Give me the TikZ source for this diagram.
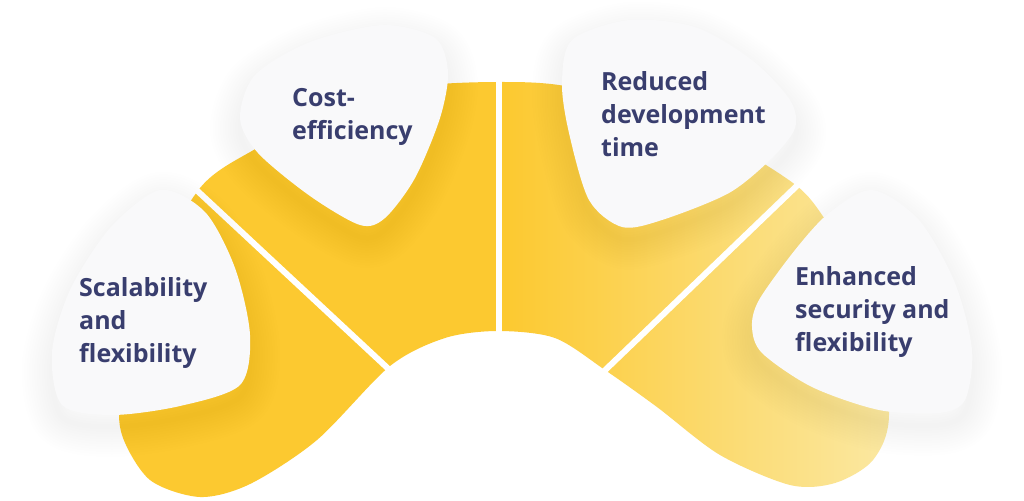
\documentclass[tikz,border=0pt]{standalone}
\usepackage{fontspec}
\IfFontExistsTF{Open Sans SemiBold}
    {\setmainfont{Open Sans}[BoldFont={Open Sans SemiBold}]}
    {\setmainfont{Open Sans}}
\definecolor{sun}{RGB}{252, 201, 48}
\definecolor{sunpale}{RGB}{251, 232, 162}
\definecolor{pebble}{RGB}{249, 249, 250}
\definecolor{ink}{RGB}{57, 62, 110}

\pgfdeclarehorizontalshading{archshade}{100bp}{
    color(0bp)=(sun); color(50bp)=(sun); color(75bp)=(sunpale); color(100bp)=(sunpale)}

\newcommand{\scalepebble}{plot[smooth cycle] coordinates {(160,190) (205,212) (235,268) (250,335) (240,385) (180,406) (112,415) (62,405) (52,352) (70,290) (110,228)}}
\newcommand{\costpebble}{plot[smooth cycle] coordinates {(383,25) (435,38) (448,72) (440,118) (415,178) (385,218) (360,225) (310,196) (258,153) (240,118) (255,75) (310,42)}}
\newcommand{\timepebble}{plot[smooth cycle] coordinates {(629,20) (695,27) (752,60) (790,100) (795,128) (772,158) (729,193) (662,220) (622,227) (589,200) (569,133) (562,83) (572,40)}}
\newcommand{\securepebble}{plot[smooth cycle] coordinates {(872,190) (829,213) (795,250) (759,300) (752,327) (762,353) (812,387) (879,410) (939,413) (965,400) (972,350) (955,283) (919,220)}}

\begin{document}
\begin{tikzpicture}[
    x=1pt, y=-1pt,
    arch_style/.style={shading=archshade},
    gap_style/.style={draw=white, line width=6pt},
    shadow_style/.style={
        draw=black,
        opacity=0.0035,
        line join=round,
        yshift=-12pt
    },
    pebble_style/.style={fill=pebble, draw=none},
    label_style/.style={
        text=ink,
        font=\fontsize{25}{33}\selectfont\bfseries,
        align=left,
        anchor=north west,
        inner sep=0pt
    }
]

\useasboundingbox[fill=white] (0,0) rectangle (1024,500);

\shade[arch_style] plot[smooth cycle] coordinates {
    (498,331) (445,338) (390,366) (317,440) (250,484) (200,497)
    (150,480) (122,435) (122,390) (150,280) (200,188) (257,148)
    (340,104) (420,86) (498,82) (565,86) (670,112) (780,174)
    (820,212) (875,310) (889,415) (873,460) (835,483) (790,485)
    (720,455) (657,407) (605,370) (555,338)};

\coordinate (mid_top) at (498.5,74);
\coordinate (mid_bot) at (498.5,342);
\coordinate (left_top) at (190,184);
\coordinate (left_bot) at (395,375);
\coordinate (right_top) at (805,178);
\coordinate (right_bot) at (598,377);

\draw[gap_style] (mid_top) -- (mid_bot);
\draw[gap_style] (left_top) -- (left_bot);
\draw[gap_style] (right_top) -- (right_bot);

\foreach \p in {\scalepebble, \costpebble, \timepebble, \securepebble} {
    \foreach \w in {5,10,...,60} {
        \draw[shadow_style, line width=\w pt] \p;
    }
}

\fill[pebble_style] \scalepebble;
\fill[pebble_style] \costpebble;
\fill[pebble_style] \timepebble;
\fill[pebble_style] \securepebble;

\node[label_style] (scale) at (79,277) {Scalability\\and\\flexibility};
\node[label_style] (cost) at (292,88) {Cost-\\efficiency};
\node[label_style] (devtime) at (601,71) {Reduced\\development\\time};
\node[label_style] (secure) at (795,266) {Enhanced\\security and\\flexibility};

\end{tikzpicture}
\end{document}
